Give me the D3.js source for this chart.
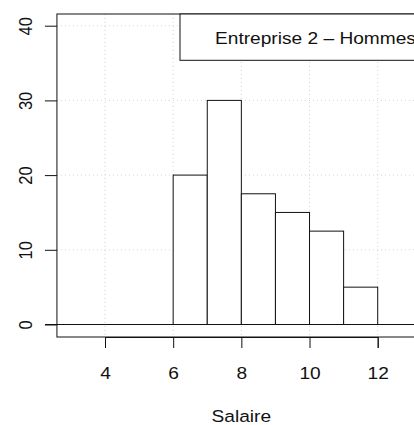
<!DOCTYPE html>
<html>
<head>
<meta charset="utf-8">
<style>
  body { margin: 0; background: #fff; }
  svg { display: block; font-family: 'Liberation Sans', Arial, sans-serif; }
</style>
</head>
<body>
<svg width="414" height="425"></svg>
<script src="https://d3js.org/d3.v7.min.js"></script>
<script>
// histogram bins (salary classes) and heights
let binStarts = [6, 7, 8, 9, 10, 11];
let binEnds = [7, 8, 9, 10, 11, 12];
let heights = [20, 30, 17.5, 15, 12.5, 5];
let xTicks = [4, 6, 8, 10, 12];
let yTicks = [0, 10, 20, 30, 40];
let legendLabel = "Entreprise 2 \u2013 Hommes";
let xLabel = "Salaire";

let fontSize = 16.5;
let stretch = "scale(1.16,1)";   // the reference text is a bit wide

let svg = d3.select("svg");

// scales (plot region runs past the right edge, like the reference)
let x = d3.scaleLinear().domain([4, 12]).range([105, 377.7]);
let y = d3.scaleLinear().domain([0, 40]).range([324.5, 25.7]);

let plotLeft = x(2.59), plotTop = 14, plotBottom = 337, plotRight = 430;

// grid: dotted light grey
let grid = svg.append("g")
    .attr("stroke", "#d3d3d3")
    .attr("stroke-dasharray", "1,3")
    .attr("stroke-width", 1);
grid.selectAll(".gx")
    .data(xTicks)
    .join("line")
    .attr("x1", d => x(d)).attr("x2", d => x(d))
    .attr("y1", plotTop).attr("y2", plotBottom);
grid.selectAll(".gy")
    .data(yTicks.slice(1))
    .join("line")
    .attr("x1", plotLeft).attr("x2", plotRight)
    .attr("y1", d => y(d)).attr("y2", d => y(d));

// bars
svg.append("g")
    .selectAll("rect")
    .data(heights)
    .join("rect")
    .attr("x", (d, i) => x(binStarts[i]))
    .attr("width", (d, i) => x(binEnds[i]) - x(binStarts[i]))
    .attr("y", d => y(d))
    .attr("height", d => y(0) - y(d))
    .attr("fill", "white")
    .attr("stroke", "#111")
    .attr("stroke-width", 1);

// baseline at 0
svg.append("line")
    .attr("x1", 45).attr("x2", plotRight)
    .attr("y1", y(0)).attr("y2", y(0))
    .attr("stroke", "#111");

// plot box
svg.append("rect")
    .attr("x", plotLeft).attr("y", plotTop)
    .attr("width", plotRight - plotLeft)
    .attr("height", plotBottom - plotTop)
    .attr("fill", "none")
    .attr("stroke", "#111");

// x axis
let xAxis = svg.append("g")
    .attr("transform", `translate(0,${plotBottom})`)
    .call(d3.axisBottom(x).tickValues(xTicks).tickSize(11));
xAxis.attr("font-size", fontSize)
    .attr("font-family", "'Liberation Sans', Arial, sans-serif");
xAxis.select(".domain").attr("stroke", "#111");
xAxis.selectAll(".tick line").attr("stroke", "#111");
xAxis.selectAll(".tick text")
    .attr("fill", "#111")
    .attr("y", 42).attr("dy", null)
    .attr("transform", stretch);

// y axis, rotated labels
let yAxis = svg.append("g")
    .attr("transform", `translate(${plotLeft},0)`)
    .call(d3.axisLeft(y).tickValues(yTicks).tickSize(12));
yAxis.attr("font-size", fontSize)
    .attr("font-family", "'Liberation Sans', Arial, sans-serif");
yAxis.select(".domain").remove();
yAxis.selectAll(".tick line").attr("stroke", "#111");
yAxis.selectAll(".tick text")
    .attr("fill", "#111")
    .attr("x", 0).attr("dy", null)
    .attr("text-anchor", "middle")
    .attr("transform", `translate(${32 - plotLeft},0) ${stretch} rotate(-90)`);

// legend box
svg.append("rect")
    .attr("x", 180).attr("y", plotTop)
    .attr("width", 260).attr("height", 60.3 - plotTop)
    .attr("fill", "white")
    .attr("stroke", "#111");
svg.append("text")
    .attr("transform", `translate(215,44) ${stretch}`)
    .attr("font-size", fontSize)
    .attr("fill", "#111")
    .text(legendLabel);

// x label
svg.append("text")
    .attr("transform", `translate(${x(8)},421.5) ${stretch}`)
    .attr("text-anchor", "middle")
    .attr("font-size", fontSize)
    .attr("fill", "#111")
    .text(xLabel);
</script>
</body>
</html>
